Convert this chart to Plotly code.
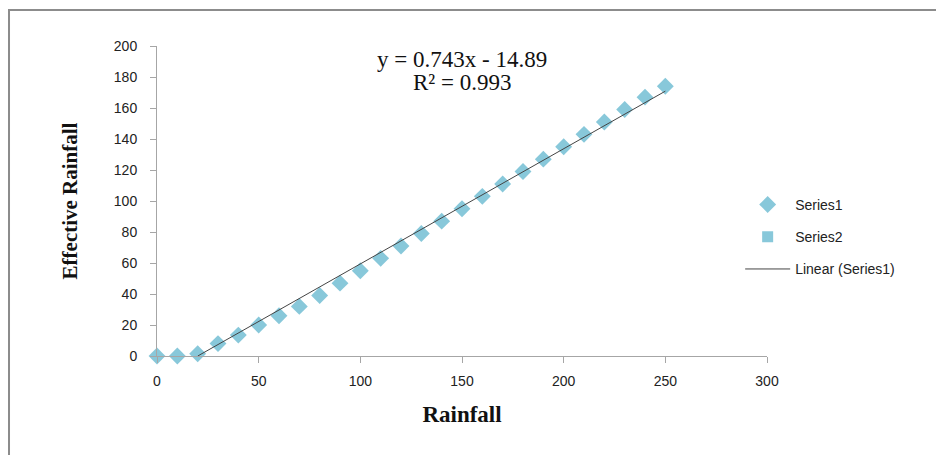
import plotly.graph_objects as go

rainfall = [0, 10, 20, 30, 40, 50, 60, 70, 80, 90, 100, 110, 120, 130, 140, 150,
            160, 170, 180, 190, 200, 210, 220, 230, 240, 250]
effective = [0, 0, 1.5, 8, 13.5, 20, 26, 32, 39, 47, 55, 63, 71, 79, 87, 95,
             103, 111, 119, 127, 135, 143, 151, 159, 167, 174]
slope = 0.743
intercept = -14.89
r2 = 0.993
x_ticks = [0, 50, 100, 150, 200, 250, 300]
y_ticks = [0, 20, 40, 60, 80, 100, 120, 140, 160, 180, 200]

marker_color = "#88C8DA"
axis_color = "#A6A6A6"
tick_font = dict(family="Liberation Sans, Arial, sans-serif", size=14, color="#222")
serif = "Liberation Serif, Times New Roman, serif"

fit_x = [-intercept / slope, max(rainfall)]
fit_y = [slope * v + intercept for v in fit_x]

fig = go.Figure()
fig.add_trace(go.Scatter(x=rainfall, y=effective, mode="markers", name="Series1",
                         legendgroup="a",
                         marker=dict(symbol="diamond", size=13, color=marker_color),
                         cliponaxis=False))
fig.add_trace(go.Scatter(x=[None], y=[None], mode="markers", name="Series2",
                         legendgroup="b",
                         marker=dict(symbol="square", size=11, color=marker_color)))
fig.add_trace(go.Scatter(x=fit_x, y=fit_y, mode="lines", name="Linear (Series1)",
                         legendgroup="c",
                         line=dict(color="#444", width=1)))

fig.add_annotation(x=0.5, y=0.955, xref="paper", yref="paper", xanchor="center", yanchor="middle",
                   text=f"y = {slope}x - {abs(intercept)}",
                   showarrow=False, font=dict(family=serif, size=23, color="#111"))
fig.add_annotation(x=0.5, y=0.881, xref="paper", yref="paper", xanchor="center", yanchor="middle",
                   text=f"R² = {r2}",
                   showarrow=False, font=dict(family=serif, size=23, color="#111"))

fig.add_shape(type="rect", xref="paper", yref="paper", x0=-0.2426, y0=-0.4, x1=1.4, y1=1.116,
              line=dict(color="#8C8C8C", width=2), fillcolor="rgba(0,0,0,0)", layer="below")

fig.update_layout(
    width=936, height=447,
    margin=dict(l=149, r=177, t=38, b=99, autoexpand=False),
    paper_bgcolor="white", plot_bgcolor="white",
    showlegend=True,
    legend=dict(x=0.956, y=0.384, xanchor="left", yanchor="middle",
                font=dict(family="Liberation Sans, Arial, sans-serif", size=14, color="#222"),
                itemwidth=45, tracegroupgap=11, bgcolor="rgba(0,0,0,0)"),
    xaxis=dict(range=[0, 300], tickvals=x_ticks, showgrid=False, zeroline=False,
               showline=True, linecolor=axis_color, linewidth=1, automargin=False,
               ticks="outside", ticklen=6, tickcolor=axis_color,
               tickfont=tick_font, ticklabelstandoff=6,
               title=dict(text="<b>Rainfall</b>", standoff=18,
                          font=dict(family=serif, size=23, color="#111"))),
    yaxis=dict(range=[0, 200], tickvals=y_ticks, showgrid=False, zeroline=False,
               showline=True, linecolor=axis_color, linewidth=1, automargin=False,
               ticks="outside", ticklen=6, tickcolor=axis_color,
               tickfont=tick_font, ticklabelstandoff=10,
               title=dict(text="<b>Effective Rainfall</b>", standoff=30,
                          font=dict(family=serif, size=21, color="#111"))),
)
fig.write_html("out.html")
